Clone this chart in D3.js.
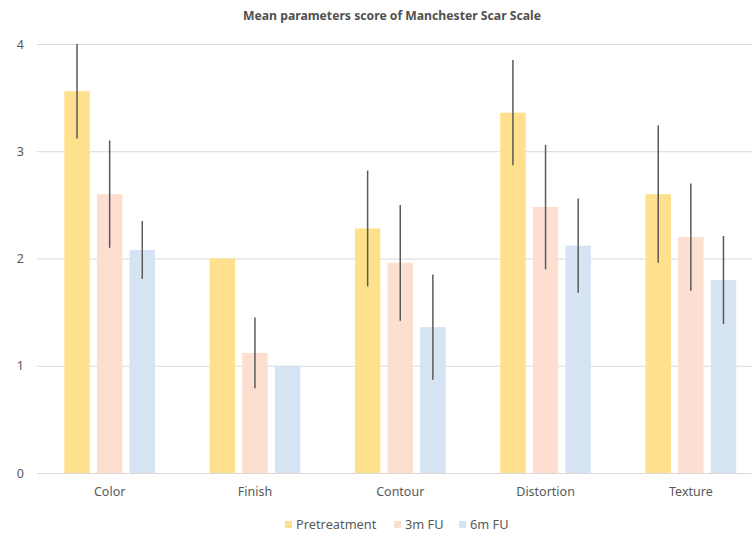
<!DOCTYPE html>
<html>
<head>
<meta charset="utf-8">
<script src="https://cdn.jsdelivr.net/npm/d3@7"></script>
<style>
  html, body { margin: 0; padding: 0; background: #fff; }
  svg { display: block; font-family: "Noto Sans", "Open Sans", sans-serif; }
</style>
</head>
<body>
<svg id="chart" width="752" height="536"></svg>
<script>
// Manchester Scar Scale parameters, mean score with standard deviation
const categories = ["Color", "Finish", "Contour", "Distortion", "Texture"];
const seriesNames = ["Pretreatment", "3m FU", "6m FU"];
const pretreatment = [3.56, 2.00, 2.28, 3.36, 2.60];
const fu3m = [2.60, 1.12, 1.96, 2.48, 2.20];
const fu6m = [2.08, 1.00, 1.36, 2.12, 1.80];
const pretreatmentSD = [0.44, 0, 0.54, 0.49, 0.64];
const fu3mSD = [0.50, 0.33, 0.54, 0.58, 0.50];
const fu6mSD = [0.27, 0, 0.49, 0.44, 0.41];
const yTicks = [0, 1, 2, 3, 4];
const colors = ["#FFE08C", "#FDDFD2", "#D5E3F3"];

const values = [pretreatment, fu3m, fu6m];
const errors = [pretreatmentSD, fu3mSD, fu6mSD];

const svg = d3.select("#chart");
const plot = { left: 37, right: 763.5, top: 44, bottom: 473 };

const x0 = d3.scaleBand().domain(categories).range([plot.left, plot.right]).padding(0);
const groupWidth = 90.7;
const groupOffset = (x0.bandwidth() - groupWidth) / 2;
const x1 = d3.scaleBand().domain(seriesNames)
  .range([groupOffset, groupOffset + groupWidth])
  .paddingInner(0.22).paddingOuter(0);
const y = d3.scaleLinear().domain([0, 4]).range([plot.bottom, plot.top]);

// Title
svg.append("text")
  .attr("x", 392).attr("y", 20)
  .attr("text-anchor", "middle")
  .attr("font-size", 12.2).attr("font-weight", "bold")
  .attr("fill", "#505050")
  .text("Mean parameters score of Manchester Scar Scale");

// Horizontal gridlines and y labels
const yAxis = d3.axisLeft(y).tickValues(yTicks).tickSize(-(plot.right - plot.left)).tickPadding(13).tickFormat(d3.format("d"));
const gy = svg.append("g").attr("transform", `translate(${plot.left},0)`).call(yAxis);
gy.select(".domain").remove();
gy.selectAll(".tick line").attr("stroke", "#d9d9d9").attr("stroke-width", 1);
gy.selectAll(".tick text").attr("fill", "#595959").attr("font-size", 12.5).attr("font-family", "Noto Sans, sans-serif");

// Bars
const rows = categories.map((c, i) => ({ category: c, i }));
const groups = svg.append("g").selectAll("g")
  .data(rows).join("g")
  .attr("transform", d => `translate(${x0(d.category)},0)`);

groups.selectAll("rect")
  .data(d => seriesNames.map((s, k) => ({ s, k, v: values[k][d.i], e: errors[k][d.i] })))
  .join("rect")
  .attr("x", d => x1(d.s))
  .attr("y", d => y(d.v))
  .attr("width", x1.bandwidth())
  .attr("height", d => y(0) - y(d.v))
  .attr("fill", d => colors[d.k]);

// Error bars
groups.selectAll("line.err")
  .data(d => seriesNames.map((s, k) => ({ s, k, v: values[k][d.i], e: errors[k][d.i] })).filter(d => d.e > 0))
  .join("line")
  .attr("class", "err")
  .attr("x1", d => x1(d.s) + x1.bandwidth() / 2)
  .attr("x2", d => x1(d.s) + x1.bandwidth() / 2)
  .attr("y1", d => y(d.v + d.e))
  .attr("y2", d => y(d.v - d.e))
  .attr("stroke", "#595959")
  .attr("stroke-width", 1.5);

// Category labels
const xAxis = d3.axisBottom(x0).tickSize(0).tickPadding(14);
const gx = svg.append("g").attr("transform", `translate(0,${plot.bottom})`).call(xAxis);
gx.select(".domain").remove();
gx.selectAll(".tick text").attr("fill", "#595959").attr("font-size", 12.5).attr("font-family", "Noto Sans, sans-serif");

// Legend
const legendX = [285, 394, 459];
const legend = svg.append("g").selectAll("g")
  .data(seriesNames).join("g")
  .attr("transform", (d, k) => `translate(${legendX[k]},520)`);
legend.append("rect").attr("width", 7).attr("height", 7).attr("y", 1)
  .attr("fill", (d, k) => colors[k]);
legend.append("text").attr("x", 11).attr("y", 8.5)
  .attr("font-size", 12.8).attr("fill", "#595959")
  .text(d => d);
</script>
</body>
</html>
